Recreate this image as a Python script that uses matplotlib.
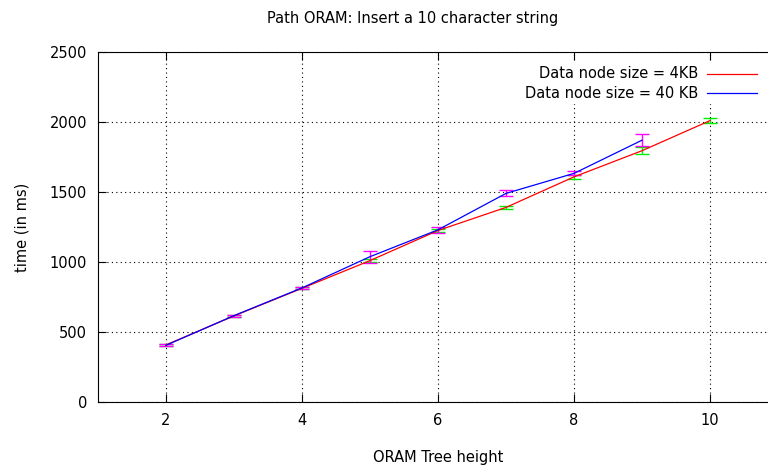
import matplotlib
matplotlib.use('Agg')
import matplotlib.pyplot as plt
from matplotlib.patches import Rectangle

plt.rcParams['font.family'] = ['DejaVu Sans']

# tree height vs insert time (ms)
height_4kb = [2, 3, 4, 5, 6, 7, 8, 9, 10]
time_4kb = [408, 615, 812, 1010, 1225, 1390, 1608, 1795, 2010]
err_4kb = [8, 8, 8, 10, 14, 10, 14, 24, 20]

height_40kb = [2, 3, 4, 5, 6, 7, 8, 9]
time_40kb = [405, 617, 815, 1038, 1230, 1490, 1633, 1870]
err_40kb = [8, 8, 8, 44, 20, 22, 14, 45]

xticks = [2, 4, 6, 8, 10]
yticks = [0, 500, 1000, 1500, 2000, 2500]

fig = plt.figure(figsize=(7.68, 4.68), dpi=100)
fig.set_facecolor('white')
# plot area runs past the right edge, like the cropped original
ax = fig.add_axes([98/768, 66/468, 680/768, 350/468])

ax.errorbar(height_4kb, time_4kb, yerr=err_4kb, fmt='none', ecolor='#00ee00',
            elinewidth=1.0, capsize=5, capthick=1.0, zorder=3)
ax.errorbar(height_40kb, time_40kb, yerr=err_40kb, fmt='none', ecolor='#ff00ff',
            elinewidth=1.0, capsize=5, capthick=1.0, zorder=3)
ax.plot(height_4kb, time_4kb, color='#ff0000', linewidth=0.9, zorder=4)
ax.plot(height_40kb, time_40kb, color='#0000ff', linewidth=0.9, zorder=4)

ax.set_xlim(1, 11)
ax.set_ylim(0, 2500)
ax.set_xticks(xticks)
ax.set_yticks(yticks)
ax.tick_params(direction='in', length=6, width=0.8, top=True, right=True,
               labelsize=10.5, pad=8, colors='black')
ax.grid(True, color='black', linestyle=(0, (1, 3)), linewidth=0.8)
for s in ax.spines.values():
    s.set_linewidth(0.8)

ax.set_xlabel('ORAM Tree height', fontsize=10.5, labelpad=16)
ax.set_ylabel('time (in ms)', fontsize=10.5, labelpad=14)
fig.text(413/768, 1 - 18/468, 'Path ORAM: Insert a 10 character string',
         ha='center', va='center', fontsize=10.5)

# gnuplot-style key: opaque box, right-aligned text, sample line on the right
fig.add_artist(Rectangle((500/768, 1 - 104/468), 262/768, 42/468,
                         transform=fig.transFigure, facecolor='white',
                         edgecolor='none', zorder=5))
key = [('Data node size = 4KB', '#ff0000', 74),
       ('Data node size = 40 KB', '#0000ff', 93)]
for label, col, ypix in key:
    yf = 1 - ypix/468
    fig.text(698/768, yf, label, ha='right', va='center', fontsize=10.5,
             zorder=6)
    fig.add_artist(plt.Line2D([707/768, 757/768], [yf, yf], color=col,
                              linewidth=0.9, transform=fig.transFigure,
                              zorder=6))

fig.savefig('out.png', dpi=100)
